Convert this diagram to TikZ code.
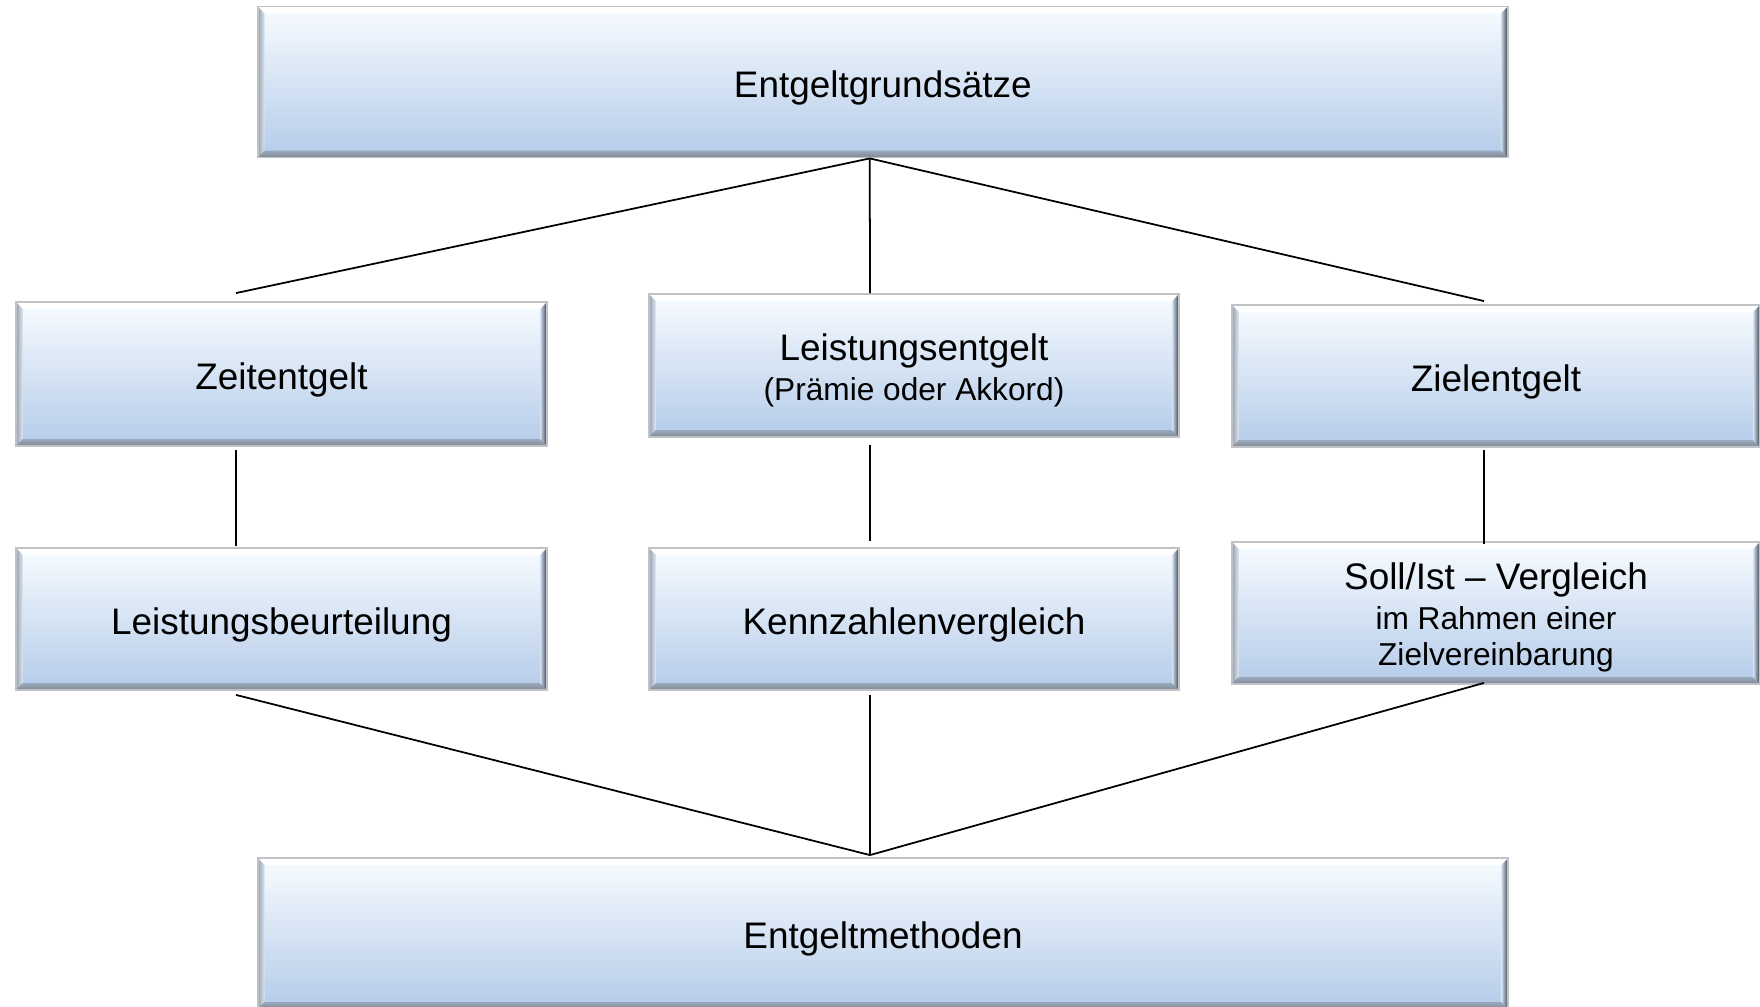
\documentclass[tikz,border=0pt]{standalone}
\usepackage{fontspec}
\setmainfont{Liberation Sans}
\usetikzlibrary{calc}
\definecolor{boxtop}{RGB}{248,252,255}
\definecolor{boxbot}{RGB}{180,203,233}
\definecolor{bevdark}{RGB}{55,61,70}
\definecolor{bevmid}{RGB}{128,136,146}
\definecolor{bevlight}{RGB}{150,160,172}
\definecolor{edgegray}{RGB}{192,194,198}
\tikzset{
  gbox/.style={rectangle, inner sep=0pt, align=center, text=black,
    draw=edgegray, line width=0.5pt, top color=boxtop, bottom color=boxbot,
    font=\fontsize{10.5}{12.6}\selectfont, text height=10.8pt,
    path picture={
      \coordinate (pSW) at (path picture bounding box.south west);
      \coordinate (pNE) at (path picture bounding box.north east);
      \coordinate (pSE) at (path picture bounding box.south east);
      \coordinate (pNW) at (path picture bounding box.north west);
      \fill[white] (pNW) -- (pNE) -- ($(pNE)+(-7,7)$) -- ($(pNW)+(7,7)$) -- cycle;
      \shade[left color=bevlight, right color=boxtop!60!boxbot]
        (pNW) -- (pSW) -- ($(pSW)+(7,-7)$) -- ($(pNW)+(7,7)$) -- cycle;
      \shade[top color=boxbot!50!bevmid, bottom color=bevmid]
        (pSW) -- (pSE) -- ($(pSE)+(-7,-7)$) -- ($(pSW)+(7,-7)$) -- cycle;
      \shade[left color=boxbot!60!white, right color=bevdark]
        (pNE) -- (pSE) -- ($(pSE)+(-7,-7)$) -- ($(pNE)+(-7,7)$) -- cycle;
    }},
  boxtext/.style={inner sep=0pt, align=center, text=black},
  conn/.style={draw=black, line width=0.5pt},
}
\begin{document}
\begin{tikzpicture}[x=0.01cm,y=-0.01cm]
\useasboundingbox (0,0) rectangle (1760,1007);

\node[gbox, minimum width=12.495cm, minimum height=1.51cm] (top) at (882.75,82) {Entgeltgrundsätze};

\node[gbox, minimum width=5.31cm, minimum height=1.44cm] (zeit) at (281.5,374) {Zeitentgelt};
\node[gbox, minimum width=5.30cm, minimum height=1.43cm] (lent) at (914,365.5) {};
\node[boxtext, font=\fontsize{9}{11.3}\selectfont] (lentT) at ($(lent.center)+(0,5)$)
  {{\fontsize{10.5}{11.3}\selectfont Leistungsentgelt}\\(Prämie oder Akkord)};
\node[gbox, minimum width=5.28cm, minimum height=1.42cm] (ziel) at (1496,376) {Zielentgelt};

\node[gbox, minimum width=5.31cm, minimum height=1.42cm] (lbeu) at (281.5,619) {Leistungsbeurteilung};
\node[gbox, minimum width=5.30cm, minimum height=1.42cm] (kenn) at (914,619) {Kennzahlenvergleich};
\node[gbox, minimum width=5.28cm, minimum height=1.42cm] (soll) at (1496,613) {};
\node[boxtext, font=\fontsize{9}{10.2}\selectfont] (sollT) at ($(soll.center)+(0,4)$)
  {{\fontsize{10.5}{11.3}\selectfont Soll/Ist – Vergleich}\\[1.2pt]im Rahmen einer\\Zielvereinbarung};

\node[gbox, minimum width=12.5cm, minimum height=1.51cm] (meth) at (883,933.5) {Entgeltmethoden};

% connectors
\coordinate (tS) at ($(top.south)+(-13,0)$);
\coordinate (zN) at ($(zeit.north)+(-45.5,-8)$);
\coordinate (lN) at ($(lent.north)+(-44,0)$);
\coordinate (rN) at ($(ziel.north)+(-12,-3)$);
\draw[conn] (tS) -- (zN);
\draw[conn] (tS) -- (lN);
\draw[conn] (tS) -- (rN);

\draw[conn] ($(zeit.south)+(-45.5,3)$) -- ($(lbeu.north)+(-45.5,-1)$);
\draw[conn] ($(lent.south)+(-44,7)$) -- ($(kenn.north)+(-44,-6)$);
\draw[conn] ($(ziel.south)+(-12,2)$) -- ($(soll.north)+(-12,3)$);

\coordinate (mN) at ($(meth.north)+(-13,-2)$);
\draw[conn] ($(lbeu.south)+(-45.5,4)$) -- (mN);
\draw[conn] ($(kenn.south)+(-44,4)$) -- (mN);
\draw[conn] ($(soll.south)+(-12,-2)$) -- (mN);
\end{tikzpicture}
\end{document}
